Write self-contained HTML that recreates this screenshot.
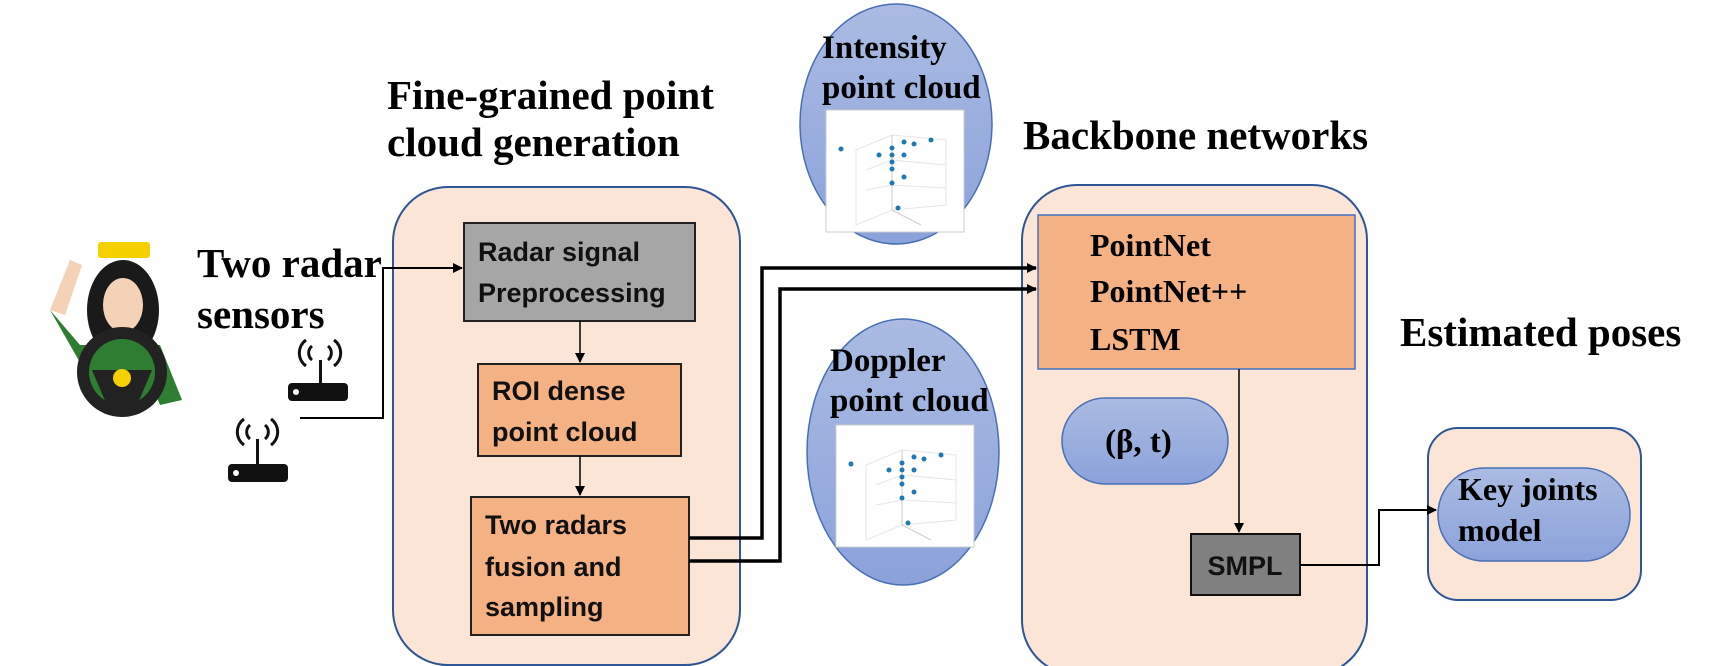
<!DOCTYPE html>
<html><head><meta charset="utf-8"><style>
html,body{margin:0;padding:0;background:#fff;}
svg{display:block;}
.t{font-family:"Liberation Serif",serif;font-weight:bold;fill:#000;}
.s{font-family:"Liberation Sans",sans-serif;font-weight:bold;fill:#111;}
</style></head><body>
<svg width="1717" height="666" viewBox="0 0 1717 666" xmlns="http://www.w3.org/2000/svg">
<defs>
<linearGradient id="bl" x1="0" y1="0" x2="0" y2="1"><stop offset="0" stop-color="#abbbe2"/><stop offset="1" stop-color="#8ba2da"/></linearGradient>
<marker id="a" markerWidth="10" markerHeight="10" refX="9" refY="5" orient="auto" markerUnits="userSpaceOnUse"><path d="M0,0 L10,5 L0,10 z" fill="#000"/></marker>
<g id="plot">
<rect x="0" y="0" width="138" height="122" fill="#fff" stroke="#ccc"/>
<g stroke="#e6e6e6" stroke-width="1" fill="none">
<path d="M30,40 L66,25 L66,100 L30,115 z M66,25 L120,30 L120,95 L66,100 M40,60 L66,50 L120,55 M40,80 L66,75 L120,78"/>
</g>
<path d="M66,25 L66,100 L95,115" stroke="#ccc" fill="none"/>
<g fill="#1f77b4">
<circle cx="15" cy="39" r="2.5"/><circle cx="53" cy="45" r="2.5"/><circle cx="66" cy="38" r="2.5"/><circle cx="66" cy="45" r="2.5"/><circle cx="66" cy="52" r="2.5"/><circle cx="66" cy="59" r="2.5"/><circle cx="78" cy="32" r="2.5"/><circle cx="88" cy="34" r="2.5"/><circle cx="105" cy="30" r="2.5"/><circle cx="78" cy="45" r="2.5"/><circle cx="78" cy="67" r="2.5"/><circle cx="66" cy="73" r="2.5"/><circle cx="72" cy="98" r="2.5"/>
</g>
</g>
</defs>

<!-- driver -->
<rect x="98" y="242" width="52" height="16" rx="3" fill="#f5d100"/>
<ellipse cx="123" cy="310" rx="36" ry="50" fill="#1a1a1a"/>
<ellipse cx="123" cy="305" rx="20" ry="27" fill="#f3d2b8"/>
<path d="M50,310 L80,345 L160,345 L182,400 L160,405 L150,380 L90,380 Z" fill="#2e7d32"/>
<path d="M50,310 L70,260 L82,265 L65,315 Z" fill="#f3d2b8"/>
<circle cx="122" cy="372" r="45" fill="#222"/>
<circle cx="122" cy="372" r="33" fill="#2e7d32"/>
<path d="M92,370 L152,370 L135,410 L109,410 Z" fill="#222"/>
<circle cx="122" cy="378" r="9" fill="#f5d100"/>

<!-- radars -->
<g transform="translate(0,40)">
<rect x="288" y="343" width="60" height="18" rx="4" fill="#111"/><rect x="319" y="320" width="3" height="25" fill="#111"/>
<path d="M312,320 a9,9 0 0,1 0,-14 M328,306 a9,9 0 0,1 0,14 M306,326 a16,16 0 0,1 0,-26 M334,300 a16,16 0 0,1 0,26" fill="none" stroke="#111" stroke-width="3"/>
<circle cx="296" cy="352" r="3" fill="#fff"/>
</g>
<g transform="translate(0,34)">
<rect x="228" y="430" width="60" height="18" rx="4" fill="#111"/><rect x="256" y="405" width="3" height="25" fill="#111"/>
<path d="M250,405 a9,9 0 0,1 0,-14 M265,391 a9,9 0 0,1 0,14 M244,411 a16,16 0 0,1 0,-26 M271,385 a16,16 0 0,1 0,26" fill="none" stroke="#111" stroke-width="3"/>
<circle cx="236" cy="439" r="3" fill="#fff"/>
</g>

<text class="t" x="197" y="277" font-size="41">Two radar</text>
<text class="t" x="197" y="328" font-size="41">sensors</text>

<!-- left container -->
<rect x="393" y="187" width="347" height="478" rx="55" fill="#fbe5d6" stroke="#2f5597" stroke-width="2"/>
<text class="t" x="387" y="109" font-size="41">Fine-grained point</text>
<text class="t" x="387" y="156" font-size="41">cloud generation</text>

<rect x="464" y="223" width="231" height="98" fill="#a6a6a6" stroke="#222" stroke-width="2"/>
<text class="s" x="478" y="261" font-size="27">Radar signal</text>
<text class="s" x="478" y="302" font-size="27">Preprocessing</text>

<rect x="478" y="364" width="203" height="92" fill="#f4b183" stroke="#222" stroke-width="2"/>
<text class="s" x="492" y="400" font-size="27">ROI dense</text>
<text class="s" x="492" y="441" font-size="27">point cloud</text>

<rect x="471" y="497" width="218" height="138" fill="#f4b183" stroke="#222" stroke-width="2"/>
<text class="s" x="485" y="534" font-size="27">Two radars</text>
<text class="s" x="485" y="576" font-size="27">fusion and</text>
<text class="s" x="485" y="616" font-size="27">sampling</text>

<!-- ellipses -->
<ellipse cx="896" cy="124" rx="96" ry="120" fill="url(#bl)" stroke="#4a6fb5" stroke-width="1.5"/>
<text class="t" x="822" y="58" font-size="33">Intensity</text>
<text class="t" x="822" y="98" font-size="33">point cloud</text>
<use href="#plot" x="826" y="110"/>

<ellipse cx="903" cy="452" rx="96" ry="133" fill="url(#bl)" stroke="#4a6fb5" stroke-width="1.5"/>
<text class="t" x="830" y="371" font-size="33">Doppler</text>
<text class="t" x="830" y="411" font-size="33">point cloud</text>
<use href="#plot" x="836" y="425"/>

<!-- backbone -->
<text class="t" x="1023" y="149" font-size="41">Backbone networks</text>
<rect x="1022" y="185" width="345" height="490" rx="55" fill="#fbe5d6" stroke="#2f5597" stroke-width="2"/>
<rect x="1038" y="215" width="317" height="154" fill="#f4b183" stroke="#4472c4" stroke-width="1.5"/>
<text class="t" x="1090" y="256" font-size="32">PointNet</text>
<text class="t" x="1090" y="302" font-size="32">PointNet++</text>
<text class="t" x="1090" y="350" font-size="32">LSTM</text>

<rect x="1062" y="398" width="166" height="86" rx="43" fill="url(#bl)" stroke="#4a6fb5" stroke-width="1.5"/>
<text class="t" x="1105" y="452" font-size="33">(β, t)</text>

<rect x="1191" y="534" width="109" height="61" fill="#808080" stroke="#111" stroke-width="2"/>
<text class="s" x="1245" y="575" font-size="27" text-anchor="middle">SMPL</text>

<text class="t" x="1400" y="346" font-size="41">Estimated poses</text>
<rect x="1428" y="428" width="213" height="172" rx="30" fill="#fbe5d6" stroke="#2f5597" stroke-width="2"/>
<rect x="1438" y="468" width="192" height="93" rx="46" fill="url(#bl)" stroke="#4a6fb5" stroke-width="1.5"/>
<text class="t" x="1458" y="500" font-size="32">Key joints</text>
<text class="t" x="1458" y="541" font-size="32">model</text>

<!-- connectors -->
<g fill="none" stroke="#000">
<path d="M300,418 L383,418 L383,268 L462,268" stroke-width="2" marker-end="url(#a)"/>
<path d="M580,321 L580,362" stroke-width="1.5" marker-end="url(#a)"/>
<path d="M580,456 L580,495" stroke-width="1.5" marker-end="url(#a)"/>
<path d="M689,538 L762,538 L762,268 L1036,268" stroke-width="3.5" marker-end="url(#a)"/>
<path d="M689,561 L780,561 L780,289 L1036,289" stroke-width="3.5" marker-end="url(#a)"/>
<path d="M1239,369 L1239,532" stroke-width="1.5" marker-end="url(#a)"/>
<path d="M1300,565 L1379,565 L1379,510 L1436,510" stroke-width="2" marker-end="url(#a)"/>
</g>
</svg>
</body></html>
